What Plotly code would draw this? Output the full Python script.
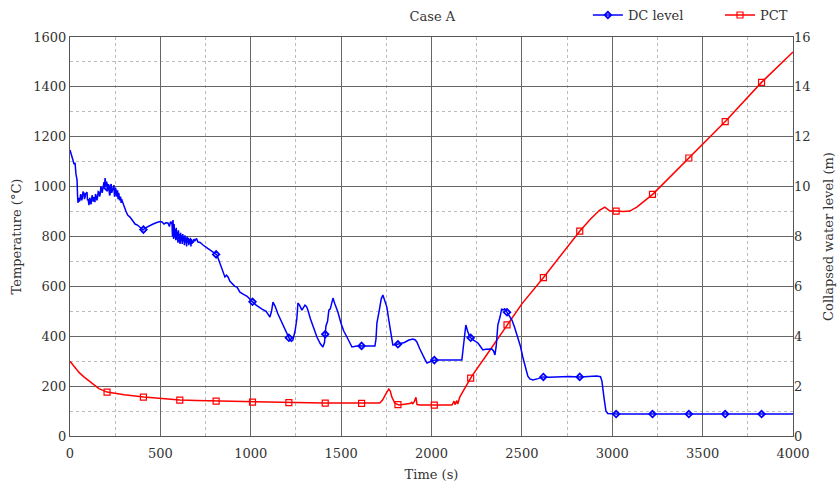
import numpy as np
import plotly.graph_objects as go

# ---- Data ----
time_dc = [0, 8, 15, 22, 28, 33, 39, 42, 44, 48, 52, 55, 59, 62, 65, 68, 72, 77, 80, 84,
           87, 90, 94, 97, 100, 105, 109, 112, 115, 118, 122, 125, 129, 133, 138, 141, 145, 149, 152, 156,
           160, 164, 167, 171, 174, 178, 181, 185, 188, 191, 194, 198, 203, 206, 209, 213, 216, 219, 222, 225,
           228, 231, 234, 238, 243, 246, 248, 251, 254, 257, 260, 263, 266, 269, 271, 274, 276, 280, 283, 286,
           290, 294, 299,
           310, 320, 332, 345, 360, 375, 390, 404, 415, 430, 442, 460, 480, 498, 509, 520, 530, 542, 550, 556,
           560,
           564, 567, 570, 573, 576, 579, 582, 585, 588, 591, 594, 597, 600, 603, 606, 609, 612, 615, 618, 621,
           624, 627, 630, 633, 636, 639, 642, 645, 648, 651, 654, 657, 660, 663, 666, 669, 672, 675, 678, 682,
           686, 690,
           700, 708, 720, 736, 750, 762, 774, 790, 805, 813, 819, 830, 841, 850, 857, 866, 874, 885, 900, 912,
           924, 940, 960, 980, 1007, 1030, 1060, 1085, 1106, 1115, 1123, 1135, 1150, 1165, 1178, 1195,
           1210, 1217, 1225, 1233, 1245, 1255, 1261, 1270, 1283, 1300, 1308, 1316, 1330, 1345, 1366,
           1385, 1399, 1408, 1416, 1425, 1432, 1440, 1448, 1455, 1465, 1475, 1482, 1500, 1515, 1532,
           1545, 1560, 1580, 1600, 1621, 1650, 1687, 1693, 1698, 1710, 1722, 1731, 1738, 1745, 1753,
           1765, 1778, 1786, 1800, 1825, 1850, 1875, 1897, 1910, 1919, 1935, 1950, 1965, 1975, 1990,
           2010, 2030, 2100, 2168, 2175, 2183, 2190, 2200, 2212, 2230, 2257, 2270, 2284, 2300, 2320,
           2334, 2344, 2351, 2358, 2363, 2367, 2380, 2388, 2395, 2405, 2417, 2430, 2445, 2460, 2478,
           2492, 2505, 2520, 2533, 2544, 2561, 2590, 2616, 2650, 2700, 2760, 2821, 2870, 2915, 2935,
           2943, 2955, 2965, 2975, 3025, 3500, 4000]
dc_level = [11.47, 11.3, 11.1, 10.9, 10.95, 10.5, 10.27, 9.6, 9.35, 9.55, 9.4, 9.46, 9.7, 9.62, 9.45, 9.55, 9.8, 9.74, 9.5, 9.6,
            9.75, 9.7, 9.78, 9.45, 9.5, 9.26, 9.55, 9.5, 9.3, 9.35, 9.65, 9.6, 9.4, 9.58, 9.38, 9.7, 9.62, 9.45, 9.55, 9.8,
            9.78, 9.6, 9.7, 10.0, 9.95, 9.75, 9.9, 10.1, 10.18, 9.95, 10.34, 10.05, 10.2, 9.85, 9.9, 10.1, 9.94, 9.65, 9.7, 10.05,
            10.1, 9.75, 9.85, 10.0, 10.06, 9.6, 9.7, 9.95, 9.9, 9.6, 9.74, 9.85, 9.5, 9.75, 9.7, 9.45, 9.54, 9.6, 9.35, 9.5,
            9.4, 9.3, 9.26,
            9.0, 8.85, 8.78, 8.65, 8.5, 8.45, 8.36, 8.26, 8.34, 8.4, 8.46, 8.5, 8.56, 8.6, 8.58, 8.5, 8.55, 8.54, 8.4, 8.6,
            8.55,
            8.58, 8.0, 8.66, 7.9, 8.5, 7.95, 8.3, 7.85, 8.35, 7.9, 8.2, 7.75, 8.25, 7.9, 8.1, 7.7, 8.15, 7.85, 8.05, 7.7,
            8.1, 7.8, 8.0, 7.65, 8.05, 7.75, 7.95, 7.6, 8.0, 7.75, 7.95, 7.65, 7.9, 7.7, 7.95, 7.6, 7.9, 7.7, 7.85, 7.75,
            7.9, 7.82,
            7.92, 7.78, 7.76, 7.66, 7.6, 7.52, 7.46, 7.38, 7.3, 7.26, 7.14, 6.9, 6.74, 6.5, 6.38, 6.45, 6.38, 6.2, 6.1, 6.0,
            5.97, 5.77, 5.68, 5.6, 5.4, 5.25, 5.1, 5.0, 4.77, 5.0, 5.37, 5.2, 4.9, 4.65, 4.45, 4.2,
            3.95, 3.85, 3.8, 3.85, 4.2, 4.7, 5.33, 5.25, 5.05, 5.25, 5.2, 5.05, 4.7, 4.4, 3.97,
            3.7, 3.57, 3.75, 4.41, 4.6, 5.05, 5.1, 5.35, 5.53, 5.3, 5.1, 4.97, 4.5, 4.2, 3.97,
            3.75, 3.57, 3.6, 3.62, 3.61, 3.6, 3.61, 3.9, 4.53, 5.0, 5.5, 5.65, 5.5, 5.3, 5.17,
            4.6, 4.0, 3.65, 3.66, 3.69, 3.75, 3.85, 3.89, 3.85, 3.77, 3.5, 3.25, 3.05, 2.93, 2.98,
            3.04, 3.05, 3.05, 3.05, 3.5, 4.2, 4.45, 4.2, 3.97, 3.85, 3.73, 3.6, 3.45, 3.48, 3.5,
            3.49, 3.4, 3.25, 3.6, 4.0, 4.45, 4.8, 5.1, 5.05, 5.1, 4.97, 4.8, 4.65, 4.35, 3.97,
            3.6, 3.17, 2.75, 2.4, 2.29, 2.25, 2.3, 2.37, 2.36, 2.38, 2.39, 2.37, 2.4, 2.41, 2.38,
            2.2, 1.5, 1.0, 0.9, 0.88, 0.88, 0.88]

time_pct = [0, 25, 50, 75, 105, 130, 160, 205, 250, 300, 409, 500, 608, 700, 813, 900, 1018, 1100,
            1200, 1300, 1400, 1500, 1600, 1700, 1714, 1730, 1742, 1752, 1764, 1772, 1780, 1790, 1797,
            1820, 1860, 1880, 1891, 1895, 1905, 1914, 1920, 1936, 2000, 2080, 2113, 2125, 2130, 2140,
            2145, 2157, 2223, 2300, 2417, 2500, 2622, 2700, 2821, 2880, 2931, 2959, 2987, 3025, 3060,
            3097, 3136, 3225, 3424, 3628, 3827, 4000]
pct = [300, 275, 255, 238, 220, 205, 190, 176, 170, 165, 156, 150, 144, 142, 140, 138, 136, 136,
       134, 133, 132, 132, 131, 131, 132, 145, 165, 175, 188, 180, 157, 140, 132, 124, 126, 130, 135,
       128, 138, 155, 126, 124, 124, 124, 124, 140, 126, 142, 128, 157, 240, 320, 445, 530, 638, 710,
       822, 870, 906, 918, 902, 902, 900, 902, 918, 970, 1115, 1263, 1419, 1540]

assert len(time_dc) == len(dc_level) and len(time_pct) == len(pct)

x_ticks = [0, 500, 1000, 1500, 2000, 2500, 3000, 3500, 4000]
y_ticks = [0, 200, 400, 600, 800, 1000, 1200, 1400, 1600]
y2_ticks = [0, 2, 4, 6, 8, 10, 12, 14, 16]

# marker sampling along the curves (gnuplot-style point interval)
marker_t = np.linspace(205, 3826, 19)
dc_mark = np.interp(marker_t, time_dc, dc_level)
pct_mark = np.interp(marker_t, time_pct, pct)

BLUE = "#0000ff"
RED = "#ff0000"
FONT = "DejaVu Serif"
TXT = "#333"

dc_marker = dict(symbol="diamond-open", size=5, color=BLUE, line=dict(width=1.8, color=BLUE))
pct_marker = dict(symbol="square-open", size=6, color=RED, line=dict(width=1.2, color=RED))

fig = go.Figure()
fig.add_trace(go.Scatter(x=time_dc, y=dc_level, yaxis="y2", mode="lines",
                         line=dict(color=BLUE, width=1.5), showlegend=False, hoverinfo="skip"))
fig.add_trace(go.Scatter(x=marker_t, y=dc_mark, yaxis="y2", mode="markers",
                         marker=dc_marker, showlegend=False))
fig.add_trace(go.Scatter(x=time_pct, y=pct, mode="lines",
                         line=dict(color=RED, width=1.5), showlegend=False, hoverinfo="skip"))
fig.add_trace(go.Scatter(x=marker_t, y=pct_mark, mode="markers",
                         marker=pct_marker, showlegend=False))
# legend entries
fig.add_trace(go.Scatter(x=[None], y=[None], mode="lines+markers", name="DC level",
                         line=dict(color=BLUE, width=1.5), marker=dc_marker, legend="legend"))
fig.add_trace(go.Scatter(x=[None], y=[None], mode="lines+markers", name="PCT",
                         line=dict(color=RED, width=1.5), marker=pct_marker, legend="legend2"))

axis_common = dict(showline=True, linecolor="#555", linewidth=1, mirror=True, ticks="",
                   zeroline=False, tickfont=dict(family=FONT, size=13, color=TXT))
leg_common = dict(orientation="h", yanchor="middle", y=1.055, xanchor="right",
                  font=dict(family=FONT, size=13, color=TXT), bgcolor="rgba(0,0,0,0)", itemwidth=30)

fig.update_layout(
    width=838, height=486,
    margin=dict(l=70, r=45, t=37, b=50, autoexpand=False),
    paper_bgcolor="white", plot_bgcolor="white",
    font=dict(family=FONT, size=13, color=TXT),
    title=dict(text="Case A", x=0.516, xanchor="center", y=0.967, yanchor="middle",
               font=dict(family=FONT, size=13, color=TXT)),
    legend=dict(x=0.856, **leg_common),
    legend2=dict(x=1.0, **leg_common),
    xaxis=dict(range=[0, 4000], tickvals=x_ticks, showgrid=True, gridcolor="#666", gridwidth=1,
               minor=dict(dtick=250, showgrid=True, gridcolor="#bbb", griddash="dot", gridwidth=1),
               ticklabelstandoff=5,
               title=dict(text="Time (s)", font=dict(family=FONT, size=13, color=TXT), standoff=10),
               **axis_common),
    yaxis=dict(range=[0, 1600], tickvals=y_ticks, showgrid=True, gridcolor="#666", gridwidth=1,
               minor=dict(dtick=100, showgrid=True, gridcolor="#bbb", griddash="dot", gridwidth=1),
               title=dict(text="Temperature (°C)", font=dict(family=FONT, size=13, color=TXT), standoff=8),
               **axis_common),
    yaxis2=dict(range=[0, 16], tickvals=y2_ticks, overlaying="y", side="right", showgrid=False,
                showline=False, ticks="", zeroline=False,
                tickfont=dict(family=FONT, size=13, color=TXT),
                title=dict(text="Collapsed water level (m)", font=dict(family=FONT, size=13, color=TXT),
                           standoff=14)),
)

fig.write_html("out.html")
